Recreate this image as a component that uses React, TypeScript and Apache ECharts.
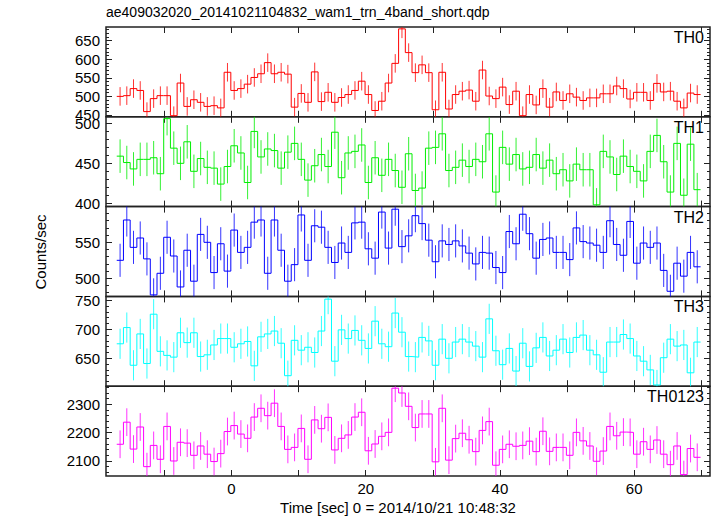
import React, { useEffect, useRef } from "react";
import * as echarts from "echarts";

const TITLE = "ae409032020_20141021104832_wam1_trn_4band_short.qdp";
const X_LABEL = "Time [sec] 0 = 2014/10/21 10:48:32";
const Y_LABEL = "Counts/sec";

// Time binning (sec)
const T_START = -17.1; // left edge of first bin
const BIN_WIDTH = 1.0;
const X_MIN = -18.7;
const X_MAX = 71.3;
const X_TICKS = [-10, 0, 10, 20, 30, 40, 50, 60, 70];
const X_TICK_LABELS = [0, 20, 40, 60];

const PANEL_NAMES = ["TH0", "TH1", "TH2", "TH3", "TH0123"];
const PANEL_COLORS = ["#ff0000", "#00ee00", "#0000ff", "#00ffff", "#ff00ff"];

const TH0 = [500, 502, 521, 516, 459, 494, 502, 502, 448, 536, 473, 491, 484, 473, 475, 469, 565, 516, 521, 533, 551, 561, 591, 561, 565, 560, 471, 508, 484, 566, 486, 511, 484, 497, 505, 516, 541, 505, 462, 487, 536, 589, 682, 618, 564, 585, 564, 464, 565, 466, 505, 514, 517, 487, 571, 501, 494, 525, 478, 514, 448, 505, 477, 521, 471, 512, 489, 507, 498, 489, 496, 496, 507, 507, 528, 521, 493, 511, 511, 489, 535, 512, 514, 487, 469, 509, 505];
const TH1 = [459, 451, 443, 455, 455, 457, 437, 506, 469, 450, 477, 440, 456, 445, 444, 424, 446, 472, 463, 426, 490, 458, 468, 466, 444, 464, 475, 455, 429, 447, 461, 446, 489, 432, 463, 465, 473, 426, 457, 435, 455, 441, 420, 462, 416, 419, 469, 470, 487, 441, 445, 454, 446, 455, 452, 487, 414, 470, 449, 461, 443, 445, 461, 444, 454, 437, 442, 428, 449, 442, 442, 398, 465, 458, 436, 459, 446, 440, 428, 465, 485, 452, 414, 475, 410, 474, 417];
const TH2 = [525, 581, 543, 556, 527, 477, 507, 557, 531, 488, 539, 496, 561, 550, 508, 548, 510, 567, 536, 543, 578, 581, 507, 581, 539, 496, 519, 588, 525, 573, 571, 543, 522, 549, 536, 577, 578, 541, 528, 592, 542, 596, 544, 559, 587, 576, 553, 523, 552, 547, 552, 545, 535, 520, 536, 535, 515, 508, 565, 548, 589, 562, 528, 554, 556, 536, 536, 526, 570, 551, 549, 546, 536, 580, 547, 532, 579, 521, 549, 543, 549, 511, 482, 521, 503, 536, 516];
const TH3 = [675, 703, 638, 692, 641, 726, 662, 655, 652, 694, 677, 694, 653, 656, 673, 684, 684, 669, 675, 679, 637, 687, 692, 697, 676, 620, 681, 664, 669, 660, 697, 752, 645, 699, 684, 698, 681, 667, 714, 675, 670, 728, 695, 653, 652, 686, 680, 638, 683, 650, 678, 683, 678, 671, 652, 718, 663, 639, 667, 628, 676, 636, 668, 686, 654, 664, 683, 660, 686, 690, 664, 656, 626, 678, 678, 691, 684, 654, 645, 630, 604, 651, 683, 671, 673, 625, 678];
const TH0123 = [2159, 2237, 2142, 2220, 2080, 2155, 2106, 2222, 2100, 2166, 2163, 2120, 2153, 2124, 2098, 2126, 2204, 2225, 2195, 2180, 2255, 2286, 2260, 2304, 2222, 2141, 2148, 2215, 2106, 2245, 2214, 2254, 2139, 2180, 2192, 2255, 2272, 2136, 2160, 2187, 2201, 2357, 2340, 2293, 2218, 2266, 2266, 2097, 2286, 2103, 2179, 2198, 2175, 2133, 2208, 2239, 2085, 2141, 2159, 2152, 2155, 2170, 2133, 2205, 2134, 2148, 2148, 2120, 2201, 2171, 2153, 2099, 2135, 2222, 2189, 2202, 2201, 2124, 2168, 2141, 2174, 2124, 2087, 2153, 2052, 2144, 2113];

// 1-sigma error per band (counts/sec)
const ERRORS = [25, 21, 23, 26, 49];

const Y_RANGES: [number, number][] = [
  [445, 687],
  [395.8, 508.3],
  [474.9, 599.6],
  [601.9, 756.7],
  [2047, 2364],
];
const Y_MAJOR = [
  [450, 500, 550, 600, 650],
  [400, 450, 500],
  [500, 550],
  [650, 700, 750],
  [2100, 2200, 2300],
];
const Y_MINOR_STEP = [10, 10, 10, 10, 20];

const SERIES_DATA = [TH0, TH1, TH2, TH3, TH0123];

const FONT = "'Liberation Sans', Arial, Helvetica, sans-serif";
const PLOT_LEFT = 106;
const PLOT_RIGHT = 710;
const PLOT_TOP = 27;
const PANEL_H = 89.8;
const W = 717;
const H = 516;

function minorTicks(range: [number, number], step: number, majors: number[]) {
  const out: number[] = [];
  const start = Math.ceil(range[0] / step) * step;
  for (let v = start; v <= range[1] + 1e-9; v += step) {
    if (!majors.some((m) => Math.abs(m - v) < 1e-6)) out.push(Math.round(v * 1000) / 1000);
  }
  return out;
}

export default function App() {
  const ref = useRef<HTMLDivElement>(null);

  useEffect(() => {
    if (!ref.current) return;
    const chart = echarts.init(ref.current, undefined, { renderer: "svg" });

    const grids: any[] = [];
    const xAxes: any[] = [];
    const yAxes: any[] = [];
    const series: any[] = [];
    const graphics: any[] = [];
    const tickColor = "#222";

    SERIES_DATA.forEach((vals, gi) => {
      const top = PLOT_TOP + gi * PANEL_H;
      grids.push({
        left: PLOT_LEFT,
        right: W - PLOT_RIGHT,
        top,
        height: PANEL_H,
        show: true,
        borderColor: "#222",
        borderWidth: 1.5,
        backgroundColor: "transparent",
      });
      const isLast = gi === SERIES_DATA.length - 1;
      ["bottom", "top"].forEach((pos) => {
        xAxes.push({
          type: "value",
          gridIndex: gi,
          position: pos,
          min: X_MIN,
          max: X_MAX,
          axisLine: { show: false, onZero: false },
          axisTick: {
            show: true,
            inside: true,
            length: 6,
            customValues: X_TICKS,
            lineStyle: { color: tickColor, width: 1 },
          },
          axisLabel:
            isLast && pos === "bottom"
              ? {
                  show: true,
                  customValues: X_TICK_LABELS,
                  margin: 5,
                  fontSize: 15,
                  fontFamily: FONT,
                  color: "#000",
                  formatter: (v: number) => String(v),
                }
              : { show: false },
          splitLine: { show: false },
        });
      });
      const range = Y_RANGES[gi];
      const majors = Y_MAJOR[gi];
      const minors = minorTicks(range, Y_MINOR_STEP[gi], majors);
      ["left", "right"].forEach((pos) => {
        yAxes.push({
          type: "value",
          gridIndex: gi,
          position: pos,
          min: range[0],
          max: range[1],
          axisLine: { show: false, onZero: false },
          axisTick: {
            show: true,
            inside: true,
            length: 6,
            customValues: majors,
            lineStyle: { color: tickColor, width: 1 },
          },
          axisLabel:
            pos === "left"
              ? {
                  show: true,
                  customValues: majors,
                  margin: 6,
                  fontSize: 15,
                  fontFamily: FONT,
                  color: "#000",
                  formatter: (v: number) => String(v),
                }
              : { show: false },
          splitLine: { show: false },
        });
        yAxes.push({
          type: "value",
          gridIndex: gi,
          position: pos,
          min: range[0],
          max: range[1],
          axisLine: { show: false, onZero: false },
          axisTick: {
            show: true,
            inside: true,
            length: 3,
            customValues: minors,
            lineStyle: { color: tickColor, width: 1 },
          },
          axisLabel: { show: false },
          splitLine: { show: false },
        });
      });

      const xIdx = gi * 2;
      const yIdx = gi * 4;
      const color = PANEL_COLORS[gi];
      const stepData = vals.map((v, i) => [T_START + i * BIN_WIDTH, v]);
      stepData.push([T_START + vals.length * BIN_WIDTH, vals[vals.length - 1]]);
      series.push({
        type: "line",
        xAxisIndex: xIdx,
        yAxisIndex: yIdx,
        data: stepData,
        step: "end",
        showSymbol: false,
        symbol: "none",
        clip: true,
        lineStyle: { color, width: 1 },
        silent: true,
      });
      const err = ERRORS[gi];
      series.push({
        type: "custom",
        xAxisIndex: xIdx,
        yAxisIndex: yIdx,
        clip: true,
        silent: true,
        data: vals.map((v, i) => [T_START + (i + 0.5) * BIN_WIDTH, v, err]),
        encode: { x: 0, y: 1 },
        renderItem: (params: any, api: any) => {
          const t = api.value(0);
          const v = api.value(1);
          const e = api.value(2);
          const p1 = api.coord([t, v - e]);
          const p2 = api.coord([t, v + e]);
          return {
            type: "line",
            shape: { x1: p1[0], y1: p1[1], x2: p2[0], y2: p2[1] },
            style: { stroke: color, lineWidth: 1, opacity: 0.8 },
          };
        },
      });

      graphics.push({
        type: "text",
        x: 704,
        y: top + 10.5,
        style: {
          text: PANEL_NAMES[gi],
          fontSize: 16,
          fontFamily: FONT,
          fill: "#000",
          textAlign: "right",
          textVerticalAlign: "middle",
        },
      });
    });

    graphics.push({
      type: "text",
      x: PLOT_LEFT,
      y: 12,
      style: {
        text: TITLE,
        fontSize: 14,
        fontFamily: FONT,
        fill: "#000",
        textAlign: "left",
        textVerticalAlign: "middle",
      },
    });
    graphics.push({
      type: "text",
      x: 398,
      y: 507,
      style: {
        text: X_LABEL,
        fontSize: 15,
        fontFamily: FONT,
        fill: "#000",
        textAlign: "center",
        textVerticalAlign: "middle",
      },
    });
    graphics.push({
      type: "text",
      x: 40,
      y: 252,
      rotation: Math.PI / 2,
      style: {
        text: Y_LABEL,
        fontSize: 15,
        fontFamily: FONT,
        fill: "#000",
        textAlign: "center",
        textVerticalAlign: "middle",
      },
    });

    chart.setOption({
      animation: false,
      backgroundColor: "#ffffff",
      grid: grids,
      xAxis: xAxes,
      yAxis: yAxes,
      series,
      graphic: graphics,
    });

    return () => {
      chart.dispose();
    };
  }, []);

  return (
    <div
      ref={ref}
      style={{ position: "fixed", left: 0, top: 0, width: W, height: H, background: "#fff" }}
    />
  );
}
